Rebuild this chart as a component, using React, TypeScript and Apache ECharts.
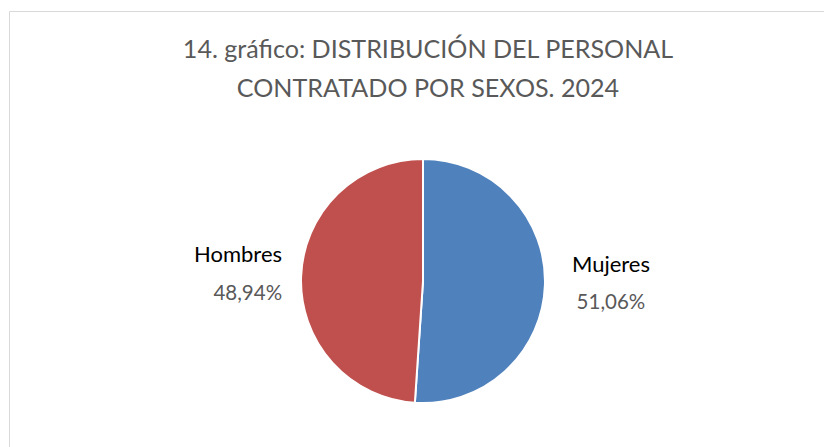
import React, { useEffect, useRef } from "react";
import * as echarts from "echarts";

const titleLines = ["14. gráfico: DISTRIBUCIÓN DEL PERSONAL", "CONTRATADO POR SEXOS. 2024"];
const categories = ["Mujeres", "Hombres"];
const values = [51.06, 48.94];
const colors = ["#4F81BD", "#C0504D"];
const labelLengths = [22, 14];
const labelAligns = ["center", "right"];

export default function App() {
  const ref = useRef<HTMLDivElement>(null);
  useEffect(() => {
    document.body.style.margin = "0";
    const chart = echarts.init(ref.current!, null, { renderer: "svg" });
    chart.setOption({
      animation: false,
      backgroundColor: "#ffffff",
      title: {
        text: titleLines.join("\n"),
        left: 423,
        textAlign: "center",
        top: 23,
        textStyle: {
          fontFamily: "Lato",
          fontWeight: "normal",
          fontSize: 25.1,
          lineHeight: 39,
          color: "#595959",
        },
      },
      graphic: [
        {
          type: "rect",
          shape: { x: 9.5, y: 11.5, width: 900, height: 500 },
          style: { fill: "none", stroke: "#D9D9D9", lineWidth: 1 },
          silent: true,
        },
      ],
      series: [
        {
          type: "pie",
          center: [423, 281],
          radius: 122,
          startAngle: 90,
          clockwise: true,
          data: categories.map((c, i) => ({
            name: c,
            value: values[i],
            itemStyle: { color: colors[i] },
            labelLine: { show: false, length: labelLengths[i], length2: 0 },
            label: {
              rich: {
                n: { fontFamily: "Lato", fontSize: 22, color: "#000000", lineHeight: 38, align: labelAligns[i] },
                v: { fontFamily: "Lato", fontSize: 20.5, color: "#595959", lineHeight: 38, align: labelAligns[i] },
              },
            },
          })),
          itemStyle: { borderColor: "#ffffff", borderWidth: 2 },
          label: {
            show: true,
            position: "outside",
            fontFamily: "Lato",
            padding: [0, 0, 7, 0],
            formatter: (p: any) =>
              "{n|" + p.name + "}\n{v|" + p.value.toFixed(2).replace(".", ",") + "%}",
            rich: {
              n: { fontFamily: "Lato", fontSize: 22, color: "#000000", lineHeight: 38 },
              v: { fontFamily: "Lato", fontSize: 20.5, color: "#595959", lineHeight: 38 },
            },
          },
          labelLine: { show: false, length: 18, length2: 0 },
        },
      ],
    });
    return () => chart.dispose();
  }, []);
  return <div ref={ref} style={{ width: 824, height: 447 }} />;
}
